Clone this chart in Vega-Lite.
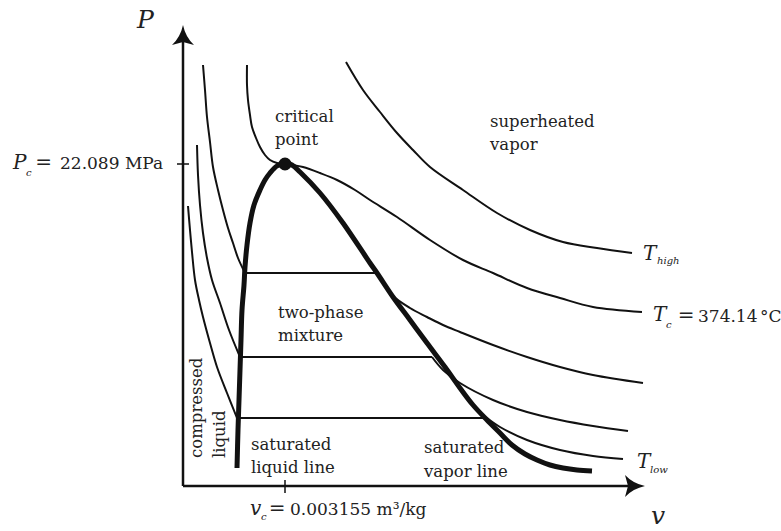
{
  "$schema": "https://vega.github.io/schema/vega-lite/v6.json",
  "width": 781,
  "height": 531,
  "autosize": {"type": "none"},
  "padding": 0,
  "background": "white",
  "config": {"view": {"stroke": null}, "text": {"font": "DejaVu Serif"}},
  "datasets": {
    "curves": [
      {"c":"dome","i":0,"v":54,"P":18},{"c":"dome","i":1,"v":55,"P":56},{"c":"dome","i":2,"v":56,"P":86},{"c":"dome","i":3,"v":57,"P":116},{"c":"dome","i":4,"v":58,"P":146},{"c":"dome","i":5,"v":59,"P":176},{"c":"dome","i":6,"v":61,"P":201},{"c":"dome","i":7,"v":62,"P":219},{"c":"dome","i":8,"v":64,"P":241},{"c":"dome","i":9,"v":67,"P":263},{"c":"dome","i":10,"v":71,"P":281},{"c":"dome","i":11,"v":77,"P":296},{"c":"dome","i":12,"v":82,"P":306},{"c":"dome","i":13,"v":87,"P":313},{"c":"dome","i":14,"v":94,"P":320},{"c":"dome","i":15,"v":102,"P":323},{"c":"dome","i":16,"v":109,"P":321},{"c":"dome","i":17,"v":117,"P":314},{"c":"dome","i":18,"v":137,"P":293},{"c":"dome","i":19,"v":160,"P":263},{"c":"dome","i":20,"v":187,"P":223},{"c":"dome","i":21,"v":194,"P":213},{"c":"dome","i":22,"v":210,"P":189},{"c":"dome","i":23,"v":227,"P":166},{"c":"dome","i":24,"v":244,"P":143},{"c":"dome","i":25,"v":262,"P":119},{"c":"dome","i":26,"v":277,"P":98},{"c":"dome","i":27,"v":290,"P":81},{"c":"dome","i":28,"v":304,"P":66},{"c":"dome","i":29,"v":317,"P":53},{"c":"dome","i":30,"v":329,"P":41},{"c":"dome","i":31,"v":342,"P":32},{"c":"dome","i":32,"v":354,"P":26},{"c":"dome","i":33,"v":367,"P":21},{"c":"dome","i":34,"v":380,"P":18},{"c":"dome","i":35,"v":394,"P":16},{"c":"dome","i":36,"v":409,"P":15},
      {"c":"T3L","i":0,"v":20,"P":421},{"c":"T3L","i":1,"v":22,"P":396},{"c":"T3L","i":2,"v":24,"P":369},{"c":"T3L","i":3,"v":27,"P":344},{"c":"T3L","i":4,"v":30,"P":319},{"c":"T3L","i":5,"v":35,"P":296},{"c":"T3L","i":6,"v":40,"P":276},{"c":"T3L","i":7,"v":45,"P":258},{"c":"T3L","i":8,"v":50,"P":243},{"c":"T3L","i":9,"v":55,"P":228},{"c":"T3L","i":10,"v":62,"P":213},
      {"c":"T3R","i":0,"v":194,"P":213},{"c":"T3R","i":1,"v":202,"P":201},{"c":"T3R","i":2,"v":210,"P":190},{"c":"T3R","i":3,"v":227,"P":178},{"c":"T3R","i":4,"v":244,"P":169},{"c":"T3R","i":5,"v":260,"P":161},{"c":"T3R","i":6,"v":277,"P":154},{"c":"T3R","i":7,"v":310,"P":141},{"c":"T3R","i":8,"v":344,"P":129},{"c":"T3R","i":9,"v":377,"P":119},{"c":"T3R","i":10,"v":410,"P":111},{"c":"T3R","i":11,"v":460,"P":103},
      {"c":"T4L","i":0,"v":14,"P":341},{"c":"T4L","i":1,"v":15,"P":311},{"c":"T4L","i":2,"v":17,"P":281},{"c":"T4L","i":3,"v":20,"P":253},{"c":"T4L","i":4,"v":24,"P":228},{"c":"T4L","i":5,"v":29,"P":206},{"c":"T4L","i":6,"v":37,"P":183},{"c":"T4L","i":7,"v":46,"P":156},{"c":"T4L","i":8,"v":57,"P":129},
      {"c":"T4R","i":0,"v":249,"P":129},{"c":"T4R","i":1,"v":260,"P":116},{"c":"T4R","i":2,"v":277,"P":103},{"c":"T4R","i":3,"v":310,"P":86},{"c":"T4R","i":4,"v":344,"P":74},{"c":"T4R","i":5,"v":377,"P":66},{"c":"T4R","i":6,"v":410,"P":60},{"c":"T4R","i":7,"v":445,"P":55},
      {"c":"T5L","i":0,"v":5,"P":280},{"c":"T5L","i":1,"v":7,"P":256},{"c":"T5L","i":2,"v":9,"P":234},{"c":"T5L","i":3,"v":12,"P":206},{"c":"T5L","i":4,"v":16,"P":186},{"c":"T5L","i":5,"v":20,"P":169},{"c":"T5L","i":6,"v":27,"P":143},{"c":"T5L","i":7,"v":34,"P":119},{"c":"T5L","i":8,"v":44,"P":93},{"c":"T5L","i":9,"v":54,"P":68},
      {"c":"T5R","i":0,"v":304,"P":68},{"c":"T5R","i":1,"v":317,"P":59},{"c":"T5R","i":2,"v":344,"P":46},{"c":"T5R","i":3,"v":377,"P":36},{"c":"T5R","i":4,"v":410,"P":30},{"c":"T5R","i":5,"v":440,"P":27},
      {"c":"Tc","i":0,"v":64,"P":421},{"c":"Tc","i":1,"v":64,"P":401},{"c":"Tc","i":2,"v":65,"P":386},{"c":"Tc","i":3,"v":67,"P":371},{"c":"Tc","i":4,"v":69,"P":359},{"c":"Tc","i":5,"v":73,"P":348},{"c":"Tc","i":6,"v":77,"P":339},{"c":"Tc","i":7,"v":82,"P":331},{"c":"Tc","i":8,"v":87,"P":326},{"c":"Tc","i":9,"v":94,"P":323},{"c":"Tc","i":10,"v":102,"P":322},{"c":"Tc","i":11,"v":110,"P":321},{"c":"Tc","i":12,"v":120,"P":319},{"c":"Tc","i":13,"v":137,"P":313},{"c":"Tc","i":14,"v":154,"P":306},{"c":"Tc","i":15,"v":172,"P":296},{"c":"Tc","i":16,"v":187,"P":286},{"c":"Tc","i":17,"v":214,"P":269},{"c":"Tc","i":18,"v":247,"P":246},{"c":"Tc","i":19,"v":280,"P":226},{"c":"Tc","i":20,"v":310,"P":213},{"c":"Tc","i":21,"v":344,"P":198},{"c":"Tc","i":22,"v":377,"P":188},{"c":"Tc","i":23,"v":410,"P":179},{"c":"Tc","i":24,"v":459,"P":174},
      {"c":"Th","i":0,"v":163,"P":424},{"c":"Th","i":1,"v":180,"P":396},{"c":"Th","i":2,"v":197,"P":374},{"c":"Th","i":3,"v":214,"P":353},{"c":"Th","i":4,"v":230,"P":336},{"c":"Th","i":5,"v":247,"P":319},{"c":"Th","i":6,"v":280,"P":296},{"c":"Th","i":7,"v":314,"P":273},{"c":"Th","i":8,"v":347,"P":256},{"c":"Th","i":9,"v":380,"P":244},{"c":"Th","i":10,"v":414,"P":238},{"c":"Th","i":11,"v":449,"P":233}
    ],
    "plateaus": [
      {"v":62,"v2":194,"P":213,"P2":213},
      {"v":57,"v2":249,"P":129,"P2":129},
      {"v":54,"v2":304,"P":68,"P2":68}
    ],
    "axes": [
      {"v":0,"P":0,"v2":0,"P2":444},
      {"v":0,"P":0,"v2":445,"P2":0}
    ],
    "ticks": [
      {"v":-6,"P":322,"v2":6,"P2":322},
      {"v":102,"P":6,"v2":102,"P2":-7}
    ],
    "uparrow": [{"v":0,"P":451}],
    "rightarrow": [{"v":452,"P":0}],
    "critical": [{"v":102,"P":322}],
    "labels": [
      {"v":92,"P":369,"t":"critical"},
      {"v":92,"P":346,"t":"point"},
      {"v":307,"P":364,"t":"superheated"},
      {"v":307,"P":341,"t":"vapor"},
      {"v":95,"P":173,"t":"two-phase"},
      {"v":95,"P":150,"t":"mixture"},
      {"v":68,"P":41,"t":"saturated"},
      {"v":68,"P":18,"t":"liquid line"},
      {"v":241,"P":38,"t":"saturated"},
      {"v":241,"P":14,"t":"vapor line"}
    ],
    "values": [
      {"v":-123,"P":317,"t":"22.089 MPa"},
      {"v":107,"P":-29,"t":"0.003155 m³/kg"},
      {"v":515,"P":164,"t":"374.14"},
      {"v":577,"P":164,"t":"°C"}
    ],
    "equals": [
      {"v":-139.5,"P":317,"t":"="},
      {"v":94,"P":-29,"t":"="},
      {"v":503,"P":164,"t":"="}
    ],
    "symbols": [
      {"v":-170,"P":317,"t":"P"},
      {"v":67,"P":-29,"t":"v"},
      {"v":460,"P":226,"t":"T"},
      {"v":470,"P":165,"t":"T"},
      {"v":454,"P":18,"t":"T"}
    ],
    "subs": [
      {"v":-157,"P":310,"t":"c"},
      {"v":78,"P":-34,"t":"c"},
      {"v":474,"P":222,"t":"high"},
      {"v":483,"P":158,"t":"c"},
      {"v":467,"P":13,"t":"low"}
    ],
    "axislabels": [
      {"v":-46,"P":458,"t":"P"},
      {"v":468,"P":-38,"t":"v"}
    ],
    "rotated": [
      {"v":14,"P":28,"t":"compressed"},
      {"v":37,"P":28,"t":"liquid"}
    ]
  },
  "encoding": {
    "x": {"field": "v", "type": "quantitative", "scale": {"domain": [-183, 598], "nice": false, "zero": false}, "axis": null},
    "y": {"field": "P", "type": "quantitative", "scale": {"domain": [-45, 486], "nice": false, "zero": false}, "axis": null}
  },
  "layer": [
    {
      "data": {"name": "plateaus"},
      "mark": {"type": "rule", "color": "#111", "strokeWidth": 2},
      "encoding": {"x2": {"field": "v2"}, "y2": {"field": "P2"}}
    },
    {
      "data": {"name": "curves"},
      "transform": [{"filter": "datum.c !== 'dome'"}],
      "mark": {"type": "line", "interpolate": "catmull-rom", "color": "#111", "strokeWidth": 2, "strokeJoin": "round"},
      "encoding": {"detail": {"field": "c"}, "order": {"field": "i", "type": "quantitative"}}
    },
    {
      "data": {"name": "curves"},
      "transform": [{"filter": "datum.c === 'dome'"}],
      "mark": {"type": "line", "interpolate": "catmull-rom", "color": "#111", "strokeWidth": 5, "strokeCap": "butt", "strokeJoin": "round"},
      "encoding": {"order": {"field": "i", "type": "quantitative"}}
    },
    {
      "data": {"name": "axes"},
      "mark": {"type": "rule", "color": "#111", "strokeWidth": 2.5},
      "encoding": {"x2": {"field": "v2"}, "y2": {"field": "P2"}}
    },
    {
      "data": {"name": "ticks"},
      "mark": {"type": "rule", "color": "#111", "strokeWidth": 1.5},
      "encoding": {"x2": {"field": "v2"}, "y2": {"field": "P2"}}
    },
    {
      "data": {"name": "uparrow"},
      "mark": {"type": "point", "filled": true, "color": "#111", "opacity": 1, "size": 400, "strokeWidth": 0, "shape": "M0,-1 Q0.25,0.2 1.1,1 L0,0.7 L-1.1,1 Q-0.25,0.2 0,-1 Z"}
    },
    {
      "data": {"name": "rightarrow"},
      "mark": {"type": "point", "filled": true, "color": "#111", "opacity": 1, "size": 400, "strokeWidth": 0, "shape": "M1,0 Q-0.2,0.25 -1,1.1 L-0.7,0 L-1,-1.1 Q-0.2,-0.25 1,0 Z"}
    },
    {
      "data": {"name": "critical"},
      "mark": {"type": "point", "filled": true, "color": "#111", "opacity": 1, "size": 170, "shape": "circle"}
    },
    {
      "data": {"name": "labels"},
      "mark": {"type": "text", "fontSize": 16.5, "align": "left", "baseline": "middle", "color": "#222"},
      "encoding": {"text": {"field": "t"}}
    },
    {
      "data": {"name": "values"},
      "mark": {"type": "text", "fontSize": 17, "align": "left", "baseline": "alphabetic", "color": "#222"},
      "encoding": {"text": {"field": "t"}}
    },
    {
      "data": {"name": "equals"},
      "mark": {"type": "text", "fontSize": 20, "align": "center", "baseline": "alphabetic", "color": "#222"},
      "encoding": {"text": {"field": "t"}}
    },
    {
      "data": {"name": "symbols"},
      "mark": {"type": "text", "fontStyle": "italic", "fontSize": 20, "align": "left", "baseline": "alphabetic", "color": "#222"},
      "encoding": {"text": {"field": "t"}}
    },
    {
      "data": {"name": "subs"},
      "mark": {"type": "text", "fontStyle": "italic", "fontSize": 10, "align": "left", "baseline": "alphabetic", "color": "#222"},
      "encoding": {"text": {"field": "t"}}
    },
    {
      "data": {"name": "axislabels"},
      "mark": {"type": "text", "fontStyle": "italic", "fontSize": 25, "align": "left", "baseline": "alphabetic", "color": "#222"},
      "encoding": {"text": {"field": "t"}}
    },
    {
      "data": {"name": "rotated"},
      "mark": {"type": "text", "fontSize": 16.5, "align": "left", "baseline": "middle", "angle": 270, "color": "#222"},
      "encoding": {"text": {"field": "t"}}
    }
  ]
}
